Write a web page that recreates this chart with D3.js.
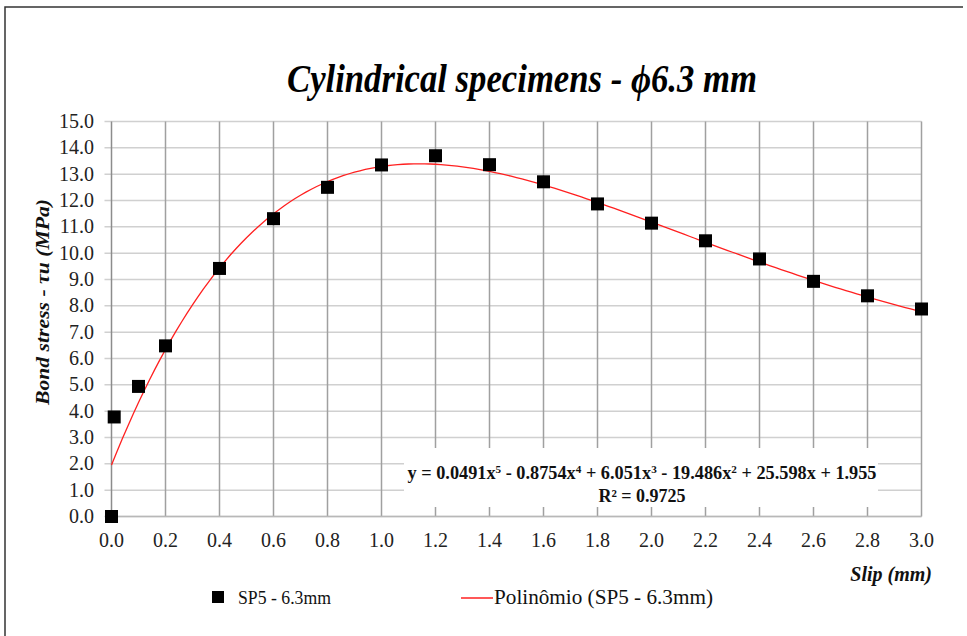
<!DOCTYPE html>
<html>
<head>
<meta charset="utf-8">
<script src="https://cdn.jsdelivr.net/npm/d3@7"></script>
<style>
  body { margin: 0; background: #fff; }
  text { font-family: "Liberation Serif", "Times New Roman", serif; }
</style>
</head>
<body>
<div class="canvas"></div>
<script>
// measured data (slip in mm, bond stress in MPa)
const slip = [0.0, 0.01, 0.1, 0.2, 0.4, 0.6, 0.8, 1.0, 1.2, 1.4, 1.6, 1.8, 2.0, 2.2, 2.4, 2.6, 2.8, 3.0];
const stress = [0.0, 3.78, 4.94, 6.48, 9.42, 11.31, 12.50, 13.35, 13.70, 13.36, 12.71, 11.87, 11.14, 10.47, 9.78, 8.93, 8.38, 7.88];

// trendline coefficients as printed on the chart (x^5 ... x^0)
const polyCoef = [0.0491, -0.8754, 6.051, -19.486, 25.598, 1.955];

const xTicks = d3.range(0, 3.01, 0.2);
const yTicks = d3.range(0, 15.01, 1);

const seriesName = 'SP5 - 6.3mm';
const trendName = 'Polinômio (SP5 - 6.3mm)';

// chart dimensions
const dims = { width: 967, height: 636 };
const plot = { left: 111.5, right: 921.5, top: 121.5, bottom: 516.5 };

const svg = d3.select('.canvas')
  .append('svg')
  .attr('width', dims.width)
  .attr('height', dims.height);

// outer frame (left + top edges only visible)
svg.append('path')
  .attr('d', 'M5,636 V7 H963')
  .attr('fill', 'none')
  .attr('stroke', '#333')
  .attr('stroke-width', 1.5);

// scales
const x = d3.scaleLinear().domain([0, 3]).range([plot.left, plot.right]);
const y = d3.scaleLinear().domain([0, 15]).range([plot.bottom, plot.top]);

// horizontal grid
svg.append('g')
  .selectAll('line')
  .data(yTicks)
  .enter().append('line')
    .attr('x1', plot.left - 7)
    .attr('x2', plot.right)
    .attr('y1', d => y(d))
    .attr('y2', d => y(d))
    .attr('stroke', '#d0d0d0')
    .attr('stroke-width', 1.5);

// vertical grid
svg.append('g')
  .selectAll('line')
  .data(xTicks)
  .enter().append('line')
    .attr('x1', d => x(d))
    .attr('x2', d => x(d))
    .attr('y1', plot.top)
    .attr('y2', plot.bottom)
    .attr('stroke', d => d === 0 ? '#8c8c8c' : '#a0a0a0')
    .attr('stroke-width', 1.5);

// bottom axis line
svg.append('line')
  .attr('x1', plot.left).attr('x2', plot.right)
  .attr('y1', plot.bottom).attr('y2', plot.bottom)
  .attr('stroke', '#b8b8b8')
  .attr('stroke-width', 1.5);

// tick labels
svg.append('g')
  .selectAll('text')
  .data(yTicks)
  .enter().append('text')
    .attr('x', 94)
    .attr('y', d => y(d) + 6.5)
    .attr('text-anchor', 'end')
    .attr('font-size', 20)
    .attr('fill', '#222')
    .text(d => d3.format('.1f')(d));

svg.append('g')
  .selectAll('text')
  .data(xTicks)
  .enter().append('text')
    .attr('x', d => x(d))
    .attr('y', 547)
    .attr('text-anchor', 'middle')
    .attr('font-size', 20)
    .attr('fill', '#222')
    .text(d => d3.format('.1f')(d));

// trendline
const poly = v => polyCoef.reduce((acc, c) => acc * v + c, 0);
const trendX = d3.range(0, 3.0001, 0.02);
const line = d3.line()
  .x(d => x(d))
  .y(d => y(poly(d)));

svg.append('path')
  .datum(trendX)
  .attr('d', line)
  .attr('fill', 'none')
  .attr('stroke', '#ff2020')
  .attr('stroke-width', 1.3);

// data markers
const pts = slip.map((s, i) => ({ s, t: stress[i] }));
svg.append('g')
  .selectAll('rect')
  .data(pts)
  .enter().append('rect')
    .attr('x', d => x(d.s) - 6.5)
    .attr('y', d => y(d.t) - 6.5)
    .attr('width', 13)
    .attr('height', 13)
    .attr('fill', '#000');

// equation label with white box
const eq = svg.append('g');
eq.append('rect')
  .attr('x', 404).attr('y', 448)
  .attr('width', 474).attr('height', 59)
  .attr('fill', '#fff');
const eqText = eq.append('text')
  .attr('x', 642).attr('y', 479)
  .attr('text-anchor', 'middle')
  .attr('font-size', 18)
  .attr('font-weight', 'bold')
  .attr('fill', '#111')
  .attr('textLength', 469)
  .attr('lengthAdjust', 'spacingAndGlyphs');
const eqParts = [
  ['y = 0.0491x', false], ['5', true], [' - 0.8754x', false], ['4', true],
  [' + 6.051x', false], ['3', true], [' - 19.486x', false], ['2', true],
  [' + 25.598x + 1.955', false]
];
let prevSup = false;
eqParts.forEach(([t, sup]) => {
  const dy = sup ? -6 : (prevSup ? 6 : 0);
  eqText.append('tspan')
    .attr('font-size', sup ? 11 : 18)
    .attr('dy', dy)
    .text(t);
  prevSup = sup;
});
svg.append('text')
  .attr('x', 642).attr('y', 502)
  .attr('text-anchor', 'middle')
  .attr('font-size', 18)
  .attr('font-weight', 'bold')
  .attr('fill', '#111')
  .text('R² = 0.9725');

// title
svg.append('text')
  .attr('x', 522).attr('y', 92)
  .attr('text-anchor', 'middle')
  .attr('font-size', 40)
  .attr('font-style', 'italic')
  .attr('font-weight', 'bold')
  .attr('fill', '#000')
  .attr('textLength', 470)
  .attr('lengthAdjust', 'spacingAndGlyphs')
  .text('Cylindrical specimens - ϕ6.3 mm');

// axis titles
svg.append('text')
  .attr('transform', 'translate(49, 302) rotate(-90)')
  .attr('text-anchor', 'middle')
  .attr('font-size', 19)
  .attr('font-style', 'italic')
  .attr('font-weight', 'bold')
  .attr('fill', '#111')
  .attr('textLength', 206)
  .attr('lengthAdjust', 'spacingAndGlyphs')
  .text('Bond stress - τu (MPa)');

svg.append('text')
  .attr('x', 932).attr('y', 581)
  .attr('text-anchor', 'end')
  .attr('font-size', 20)
  .attr('font-style', 'italic')
  .attr('font-weight', 'bold')
  .attr('fill', '#111')
  .text('Slip (mm)');

// legend
const legend = svg.append('g');
legend.append('rect')
  .attr('x', 212).attr('y', 591)
  .attr('width', 12).attr('height', 12)
  .attr('fill', '#000');
legend.append('text')
  .attr('x', 238).attr('y', 604)
  .attr('font-size', 19)
  .attr('fill', '#111')
  .attr('textLength', 93)
  .attr('lengthAdjust', 'spacingAndGlyphs')
  .text(seriesName);
legend.append('line')
  .attr('x1', 461).attr('x2', 493)
  .attr('y1', 598).attr('y2', 598)
  .attr('stroke', '#ff2020')
  .attr('stroke-width', 1.5);
legend.append('text')
  .attr('x', 494).attr('y', 604)
  .attr('font-size', 20)
  .attr('fill', '#111')
  .attr('textLength', 219)
  .attr('lengthAdjust', 'spacingAndGlyphs')
  .text(trendName);
</script>
</body>
</html>
